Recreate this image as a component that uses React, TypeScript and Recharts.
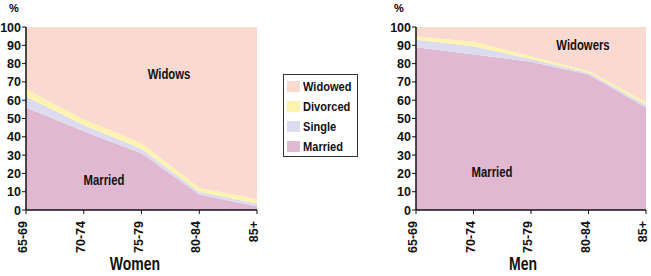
import React from "react";
import { AreaChart, Area, XAxis, YAxis } from "recharts";

const ageGroups = ["65-69", "70-74", "75-79", "80-84", "85+"];
const womenMarried = [56, 43, 31, 8.5, 2];
const womenSingle = [6, 3.5, 2.5, 1.5, 1.5];
const womenDivorced = [4, 3, 3, 2, 2.5];
const womenWidowed = [34, 50.5, 63.5, 88, 94];
const menMarried = [89, 85, 81, 74, 56];
const menSingle = [4, 4.5, 1.5, 1, 1.5];
const menDivorced = [2, 2.5, 1.5, 1, 1.5];
const menWidowed = [5, 8, 16, 24, 41];
const yTicks = [0, 10, 20, 30, 40, 50, 60, 70, 80, 90, 100];

const series = [
  { key: "Widowed", color: "#FAD9D0" },
  { key: "Divorced", color: "#FDF3AE" },
  { key: "Single", color: "#DCDCEE" },
  { key: "Married", color: "#E0B8D2" },
];

const womenData = ageGroups.map((a, i) => ({
  age: a,
  Married: womenMarried[i],
  Single: womenSingle[i],
  Divorced: womenDivorced[i],
  Widowed: womenWidowed[i],
}));
const menData = ageGroups.map((a, i) => ({
  age: a,
  Married: menMarried[i],
  Single: menSingle[i],
  Divorced: menDivorced[i],
  Widowed: menWidowed[i],
}));

const FONT = "'Liberation Sans', Arial, sans-serif";

const XTick = (props: any) => {
  const { x, y, payload } = props;
  return (
    <text
      x={x + 1}
      y={y + 5}
      transform={`rotate(-90, ${x + 1}, ${y + 5})`}
      textAnchor="end"
      fontFamily={FONT}
      fontWeight="bold"
      fontSize={12.5}
      fill="#111"
    >
      {payload.value}
    </text>
  );
};

const YTick = (props: any) => {
  const { x, y, payload } = props;
  return (
    <text
      x={x + 1}
      y={y}
      textAnchor="end"
      dy="0.36em"
      fontFamily={FONT}
      fontWeight="bold"
      fontSize={12.5}
      fill="#111"
    >
      {payload.value}
    </text>
  );
};

const stackOrder = ["Married", "Single", "Divorced", "Widowed"];
const colorOf = (k: string) => series.find((s) => s.key === k)!.color;

const Panel = ({ data, width, right }: { data: any[]; width: number; right: number }) => (
  <AreaChart
    width={width}
    height={276}
    data={data}
    margin={{ top: 27, right, bottom: 16, left: 0 }}
  >
    <XAxis
      dataKey="age"
      height={50}
      tick={<XTick />}
      tickSize={4}
      axisLine={{ stroke: "#111", strokeWidth: 1.5 }}
      tickLine={{ stroke: "#111" }}
      interval={0}
    />
    <YAxis
      width={26}
      domain={[0, 100]}
      ticks={yTicks}
      interval={0}
      tick={<YTick />}
      tickSize={4}
      axisLine={{ stroke: "#111", strokeWidth: 1.5 }}
      tickLine={{ stroke: "#111" }}
      allowDataOverflow
    />
    {stackOrder.map((k) => (
      <Area
        key={k}
        type="linear"
        dataKey={k}
        stackId="1"
        stroke="none"
        fill={colorOf(k)}
        fillOpacity={1}
        isAnimationActive={false}
        dot={false}
        activeDot={false}
      />
    ))}
  </AreaChart>
);

const abs = (x: number, y: number, extra: React.CSSProperties = {}): React.CSSProperties => ({
  position: "absolute",
  left: x,
  top: y,
  whiteSpace: "nowrap",
  lineHeight: 1,
  ...extra,
});

const labelStyle = (size: number, sx: number): React.CSSProperties => ({
  fontFamily: FONT,
  fontWeight: "bold",
  fontSize: size,
  color: "#111",
  transform: `translate(-50%,-50%) scaleX(${sx})`,
});

export default function App() {
  return (
    <div
      style={{
        position: "absolute",
        left: 0,
        top: 0,
        width: 651,
        height: 276,
        background: "#fff",
        overflow: "hidden",
      }}
    >
      <div style={abs(0, 0)}>
        <Panel data={womenData} width={270} right={13} />
      </div>
      <div style={abs(390, 0)}>
        <Panel data={menData} width={261} right={5} />
      </div>

      <div style={abs(9, 3, { fontFamily: FONT, fontWeight: "bold", fontSize: 11 })}>%</div>
      <div style={abs(394, 3, { fontFamily: FONT, fontWeight: "bold", fontSize: 11 })}>%</div>

      <div style={abs(169, 74, labelStyle(14.5, 0.78))}>Widows</div>
      <div style={abs(104, 180, labelStyle(14.5, 0.78))}>Married</div>
      <div style={abs(583, 45, labelStyle(14.5, 0.78))}>Widowers</div>
      <div style={abs(492, 172, labelStyle(14.5, 0.78))}>Married</div>

      <div style={abs(135, 265, labelStyle(17.5, 0.8))}>Women</div>
      <div style={abs(523, 265, labelStyle(17.5, 0.8))}>Men</div>

      <div
        style={abs(283, 74, {
          width: 75,
          height: 83,
          border: "1px solid #333",
          boxSizing: "border-box",
        })}
      >
        {series.map((s, i) => (
          <div key={s.key} style={abs(3, 5 + i * 20, { display: "flex", alignItems: "center" })}>
            <div style={{ width: 13, height: 11, background: s.color, marginRight: 3 }} />
            <span
              style={{
                display: "inline-block",
                fontFamily: FONT,
                fontWeight: "bold",
                fontSize: 13.5,
                color: "#111",
                transform: "scaleX(0.82)",
                transformOrigin: "left center",
              }}
            >
              {s.key}
            </span>
          </div>
        ))}
      </div>
    </div>
  );
}
